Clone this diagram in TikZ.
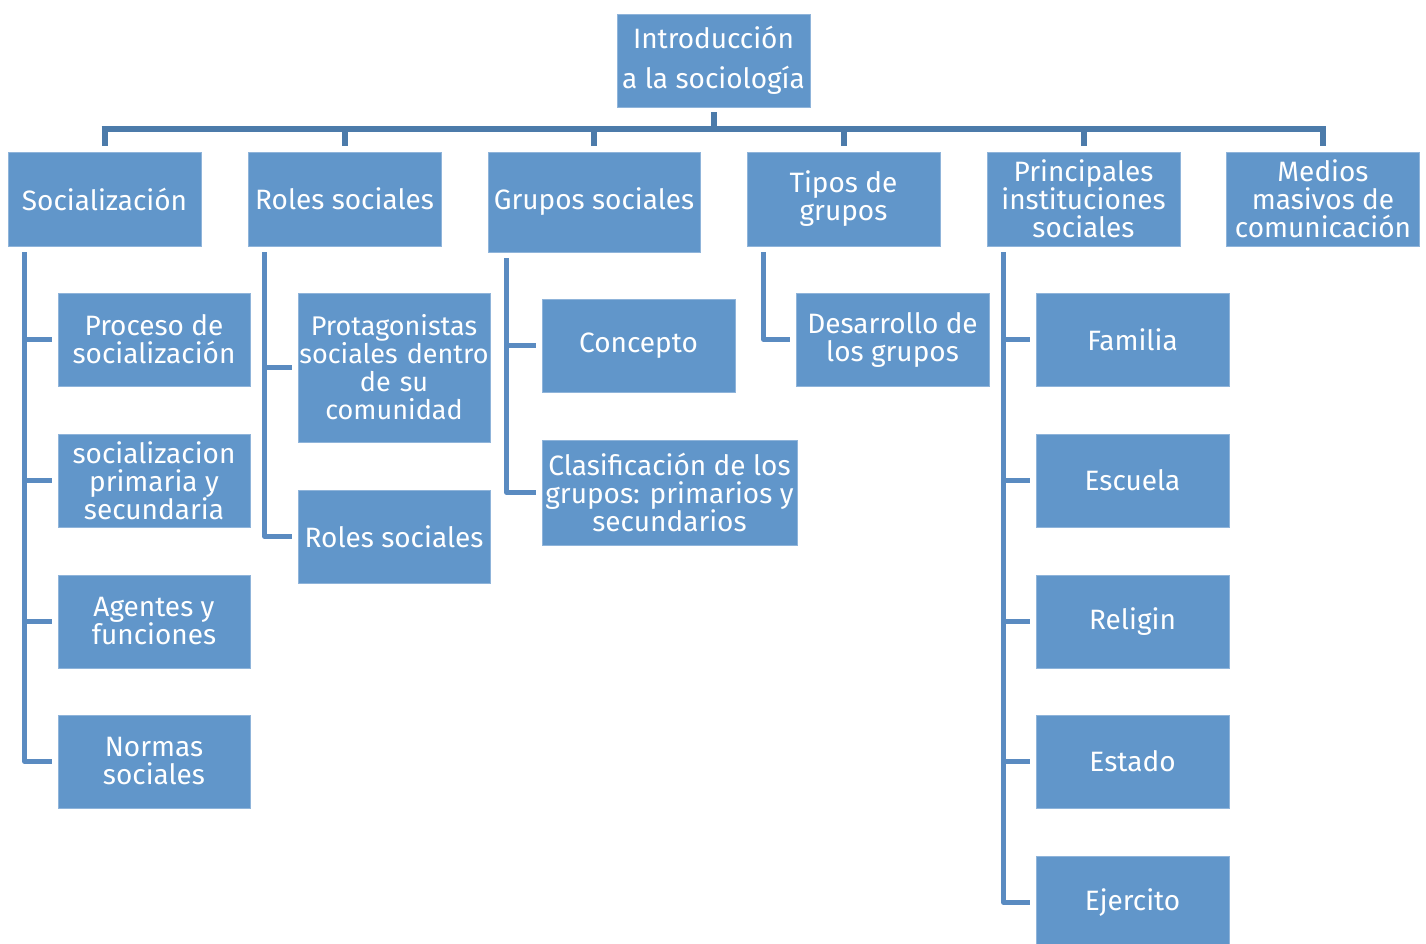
\documentclass[tikz,border=0pt]{standalone}
\usepackage{fontspec}
\setmainfont{Fira Sans}
\definecolor{boxfill}{HTML}{6196CA}
\definecolor{boxline}{HTML}{8FB4DA}
\definecolor{busline}{HTML}{4C7BAA}
\definecolor{subline}{HTML}{5A8BC1}
\begin{document}
\begin{tikzpicture}[x=1pt,y=-1pt,
  box/.style={fill=boxfill,draw=boxline,line width=0.8pt,text=white,inner sep=0pt,
    align=center,font=\fontsize{28}{28}\selectfont},
  bus/.style={draw=busline,line width=6pt},
  sub/.style={draw=subline,line width=5pt,line join=round}]
\useasboundingbox (0,0) rectangle (1426,944);
% root
\node[box,minimum width=193,minimum height=93,font=\fontsize{28}{40}\selectfont] (root) at (713.5,60.5) {Introducción\\a la sociología};
% level 1
\node[box,minimum width=193,minimum height=94] (soc) at (104.5,199) {Socialización};
\node[box,minimum width=193,minimum height=94] (rol) at (344.5,199) {Roles sociales};
\node[box,minimum width=212,minimum height=100] (gru) at (594,202) {Grupos sociales};
\node[box,minimum width=193,minimum height=94] (tip) at (843.5,199) {Tipos de\\grupos};
\node[box,minimum width=193,minimum height=94] (pri) at (1083.5,199) {Principales\\instituciones\\sociales};
\node[box,minimum width=193,minimum height=94] (med) at (1323,199) {Medios\\masivos de\\comunicación};
% column 1
\node[box,minimum width=192,minimum height=93] (s1) at (154,339.5) {Proceso de\\socialización};
\node[box,minimum width=192,minimum height=93] (s2) at (154,480.5) {socializacion\\primaria y\\secundaria};
\node[box,minimum width=192,minimum height=93] (s3) at (154,621.5) {Agentes y\\funciones};
\node[box,minimum width=192,minimum height=93] (s4) at (154,761.5) {Normas\\sociales};
% column 2
\node[box,minimum width=192,minimum height=149,text width=190,font=\fontsize{27}{28}\selectfont] (r1) at (394,367.5) {Protagonistas\\sociales dentro\\de su\\comunidad};
\node[box,minimum width=192,minimum height=93] (r2) at (394,536.5) {Roles sociales};
% column 3
\node[box,minimum width=193,minimum height=93] (g1) at (638.5,345.5) {Concepto};
\node[box,minimum width=255,minimum height=105] (g2) at (669.5,492.5) {Clasificación de los\\grupos: primarios y\\secundarios};
% column 4
\node[box,minimum width=193,minimum height=93] (t1) at (892.5,339.5) {Desarrollo de\\los grupos};
% column 5
\node[box,minimum width=193,minimum height=93] (p1) at (1132.5,339.5) {Familia};
\node[box,minimum width=193,minimum height=93] (p2) at (1132.5,480.5) {Escuela};
\node[box,minimum width=193,minimum height=93] (p3) at (1132.5,621.5) {Religin};
\node[box,minimum width=193,minimum height=93] (p4) at (1132.5,761.5) {Estado};
\node[box,minimum width=193,minimum height=93] (p5) at (1132.5,902.5) {Ejercito};
% bus
\coordinate (busL) at (soc.north |- 0,129);
\coordinate (busR) at (med.north |- 0,129);
\draw[bus] ([yshift=-5pt]root.south) -- (root.south |- busL);
\draw[bus] ([xshift=-3pt]busL) -- ([xshift=3pt]busR);
\foreach \n in {soc,rol,gru,tip,pri,med}
  \draw[bus] (\n.north |- busL) -- ([yshift=6pt]\n.north);
% column 1
\draw[sub] ([shift={(17pt,-6pt)}]soc.south west) |- ([xshift=-6pt]s4.west);
\foreach \n in {s1,s2,s3} \draw[sub] ([xshift=-6pt]\n.west) -- ++(-27,0);
% column 2
\draw[sub] ([shift={(17pt,-6pt)}]rol.south west) |- ([xshift=-6pt]r2.west);
\draw[sub] ([xshift=-6pt]r1.west) -- ++(-27,0);
% column 3
\draw[sub] ([shift={(19pt,-6pt)}]gru.south west) |- ([xshift=-6pt]g2.west);
\draw[sub] ([xshift=-6pt]g1.west) -- ++(-29,0);
% column 4
\draw[sub] ([shift={(17pt,-6pt)}]tip.south west) |- ([xshift=-6pt]t1.west);
% column 5
\draw[sub] ([shift={(17pt,-6pt)}]pri.south west) |- ([xshift=-6pt]p5.west);
\foreach \n in {p1,p2,p3,p4} \draw[sub] ([xshift=-6pt]\n.west) -- ++(-26,0);
\end{tikzpicture}
\end{document}
